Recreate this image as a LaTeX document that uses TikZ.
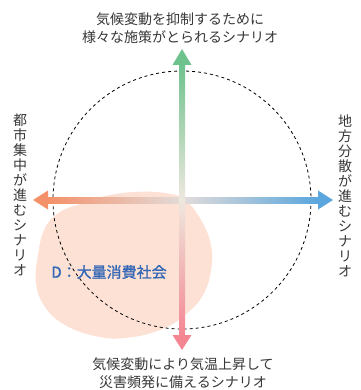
\documentclass[tikz,border=0pt]{standalone}
\usepackage{fontspec}
\setmainfont{Noto Sans CJK JP}
\newfontfamily\labelfont[FakeBold=1.2]{Noto Sans CJK JP}
\definecolor{txt}{RGB}{55,55,55}
\definecolor{blobc}{RGB}{252,225,212}
\definecolor{agreen}{RGB}{110,194,141}
\definecolor{apink}{RGB}{244,134,146}
\definecolor{aorange}{RGB}{244,145,106}
\definecolor{ablue}{RGB}{90,166,221}
\definecolor{amidv}{RGB}{238,232,222}
\definecolor{amidh}{RGB}{226,220,218}
\definecolor{lblue}{RGB}{52,103,182}
\begin{document}
\begin{tikzpicture}[x=1pt,y=-1pt,
  caption/.style={font=\fontsize{14}{17.5}\selectfont, text=txt, align=center, inner sep=0pt},
  vcaption/.style={font=\fontsize{14}{15}\selectfont, text=txt, align=center, inner sep=0pt},
  dashcircle/.style={draw=black, line width=0.8pt, dash pattern=on 3pt off 3pt}]
\useasboundingbox (0,0) rectangle (360,390);
\coordinate (c) at (182,200);
% blob
\fill[blobc] plot[smooth cycle, tension=0.7] coordinates {
 (45,228) (60,212) (80,204) (105,196) (135,192) (165,193) (185,200)
 (201,220) (211,245) (211,270) (203,295) (185,315) (160,330) (125,338)
 (95,336) (65,325) (45,307) (36,283) (38,255)};
% circle
\draw[dashcircle] (c) circle[radius=129];
% horizontal arrow
\coordinate (lt) at (33,200);
\coordinate (rt) at (333,200);
\shade[left color=aorange, right color=ablue, middle color=amidh] (48,197) rectangle (318,203);
\fill[aorange] (lt) -- (48,190.5) -- (48,209.5) -- cycle;
\fill[ablue] (rt) -- (318,190.5) -- (318,209.5) -- cycle;
% vertical arrow
\coordinate (tt) at (182,49);
\coordinate (bt) at (182,350);
\shade[top color=agreen, bottom color=apink, middle color=amidv] (179,64) rectangle (185,336);
\fill[agreen] (tt) -- (172.5,65) -- (191.5,65) -- cycle;
\fill[apink] (bt) -- (172.5,335) -- (191.5,335) -- cycle;
% texts
\node[caption] (top) at (180,28) {気候変動を抑制するために\\様々な施策がとられるシナリオ};
\node[caption] (bottom) at (183,373) {気候変動により気温上昇して\\災害頻発に備えるシナリオ};
\node[vcaption] (left) at (20,195) {都\\市\\集\\中\\が\\進\\む\\シ\\ナ\\リ\\オ};
\node[vcaption] (right) at (345,196) {地\\方\\分\\散\\が\\進\\む\\シ\\ナ\\リ\\オ};
\node[font=\labelfont\fontsize{15}{18}\selectfont, text=lblue, inner sep=0pt] (d) at (109,272) {D：大量消費社会};
\end{tikzpicture}
\end{document}
